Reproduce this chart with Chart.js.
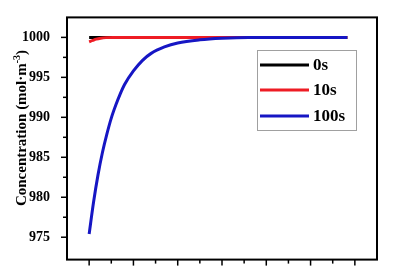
<!DOCTYPE html>
<html>
<head>
<meta charset="utf-8">
<script src="https://cdn.jsdelivr.net/npm/chart.js@4"></script>
<style>
  html, body { margin: 0; padding: 0; background: #fff; }
  #wrap { width: 395px; height: 277px; position: relative; }
</style>
</head>
<body>
<div id="wrap"><canvas id="chartConc"></canvas></div>
<script>
/* ============================================================
   DATA — concentration vs time
============================================================ */
const seriesNames = ["0s", "10s", "100s"];
const seriesColors = ["#000000", "#ee1c24", "#1616c4"];

const x0s = [0, 5.83];
const y0s = [1000, 1000];

const x10s = [0, 0.08, 0.16, 0.26, 0.38, 0.55, 1.0, 5.83];
const y10s = [999.45, 999.62, 999.78, 999.9, 999.97, 1000, 1000, 1000];

const x100s = [0, 0.1, 0.2, 0.3, 0.4, 0.5, 0.6, 0.7, 0.8, 1.0, 1.2, 1.4, 1.7, 2.0, 2.5, 3.0, 3.6, 5.83];
const y100s = [975.4, 979.4, 982.8, 985.6, 987.9, 989.9, 991.5, 992.9, 994.1, 995.8, 997.1, 998.0, 998.8, 999.3, 999.7, 999.9, 1000, 1000];

const yTicksMajor = [975, 980, 985, 990, 995, 1000];
const yTitle = "Concentration (mol·m";

function pts(xs, ys) {
    return xs.map((x, i) => ({ x: x, y: ys[i] }));
}

/* ============================================================
   PLUGIN — frame, ticks, y title, legend box
============================================================ */
const framePlugin = {
    id: "frame",
    afterDraw(chart) {
        const ctx = chart.ctx;
        const a = chart.chartArea;
        const xs = chart.scales.x;
        const ys = chart.scales.y;
        ctx.save();
        ctx.strokeStyle = "#000";
        ctx.lineWidth = 2;
        ctx.strokeRect(a.left, a.top, a.right - a.left, a.bottom - a.top);

        // y ticks (major 5, minor 2.5)
        ctx.lineWidth = 1.5;
        for (let v = 975; v <= 1002; v += 2.5) {
            const py = ys.getPixelForValue(v);
            const len = (v % 5 === 0) ? 6 : 4;
            ctx.beginPath();
            ctx.moveTo(a.left, py);
            ctx.lineTo(a.left - len, py);
            ctx.stroke();
        }
        // x ticks (major 1, minor 0.5)
        for (let v = 0; v <= 6.01; v += 0.5) {
            const px = xs.getPixelForValue(v);
            const len = (v % 1 === 0) ? 6 : 4;
            ctx.beginPath();
            ctx.moveTo(px, a.bottom);
            ctx.lineTo(px, a.bottom + len);
            ctx.stroke();
        }

        // y title
        ctx.fillStyle = "#000";
        ctx.translate(22, 128);
        ctx.rotate(-Math.PI / 2);
        ctx.font = "bold 15px 'Liberation Serif', 'Times New Roman', serif";
        const w1 = ctx.measureText(yTitle).width;
        ctx.font = "bold 10px 'Liberation Serif', serif";
        const w2 = ctx.measureText("-3").width;
        ctx.font = "bold 15px 'Liberation Serif', serif";
        const w3 = ctx.measureText(")").width;
        let sx = -(w1 + w2 + w3) / 2;
        ctx.textBaseline = "middle";
        ctx.textAlign = "left";
        ctx.fillText(yTitle, sx, 0);
        sx += w1;
        ctx.font = "bold 10px 'Liberation Serif', serif";
        ctx.fillText("-3", sx, -5);
        sx += w2;
        ctx.font = "bold 15px 'Liberation Serif', serif";
        ctx.fillText(")", sx, 0);
        ctx.restore();

        // legend box
        ctx.save();
        ctx.strokeStyle = "#a0a0a0";
        ctx.lineWidth = 1;
        ctx.strokeRect(257.5, 50.5, 99, 80);
        ctx.font = "bold 17px 'Liberation Serif', serif";
        ctx.textBaseline = "middle";
        ctx.textAlign = "left";
        const rowsY = [65, 90, 116];
        seriesNames.forEach((name, i) => {
            ctx.strokeStyle = seriesColors[i];
            ctx.lineWidth = 3;
            ctx.beginPath();
            ctx.moveTo(260, rowsY[i]);
            ctx.lineTo(309, rowsY[i]);
            ctx.stroke();
            ctx.fillStyle = "#000";
            ctx.fillText(name, 313, rowsY[i] + 1);
        });
        ctx.restore();
    }
};

const bgPlugin = {
    id: "bg",
    beforeDraw(chart) {
        const ctx = chart.ctx;
        ctx.save();
        ctx.fillStyle = "#fff";
        ctx.fillRect(0, 0, chart.width, chart.height);
        ctx.restore();
    }
};

/* ============================================================
   CHART
============================================================ */
const ctx = document.getElementById("chartConc");
new Chart(ctx, {
    type: "line",
    data: {
        datasets: [
            { label: seriesNames[0], data: pts(x0s, y0s), borderColor: seriesColors[0], order: 2 },
            { label: seriesNames[1], data: pts(x10s, y10s), borderColor: seriesColors[1], order: 1 },
            { label: seriesNames[2], data: pts(x100s, y100s), borderColor: seriesColors[2], order: 0 }
        ]
    },
    options: {
        responsive: true,
        maintainAspectRatio: false,
        animation: false,
        layout: { padding: { left: 0, top: 12, right: 18, bottom: 0 } },
        elements: {
            point: { radius: 0 },
            line: { borderWidth: 3, cubicInterpolationMode: "monotone", fill: false }
        },
        plugins: {
            legend: { display: false },
            tooltip: { enabled: false }
        },
        scales: {
            x: {
                type: "linear",
                min: -0.5,
                max: 6.5,
                grid: { display: false },
                border: { display: false },
                ticks: { display: false },
                afterFit: (s) => { s.height = 16; }
            },
            y: {
                min: 972.2,
                max: 1002.5,
                grid: { display: false },
                border: { display: false },
                afterBuildTicks: (s) => { s.ticks = yTicksMajor.map(v => ({ value: v })); },
                ticks: {
                    padding: 9,
                    color: "#000",
                    callback: (v) => String(v),
                    font: { family: "'Liberation Serif', serif", size: 14, weight: "bold" }
                },
                afterFit: (s) => { s.width = 67; }
            }
        }
    },
    plugins: [bgPlugin, framePlugin]
});
</script>
</body>
</html>
